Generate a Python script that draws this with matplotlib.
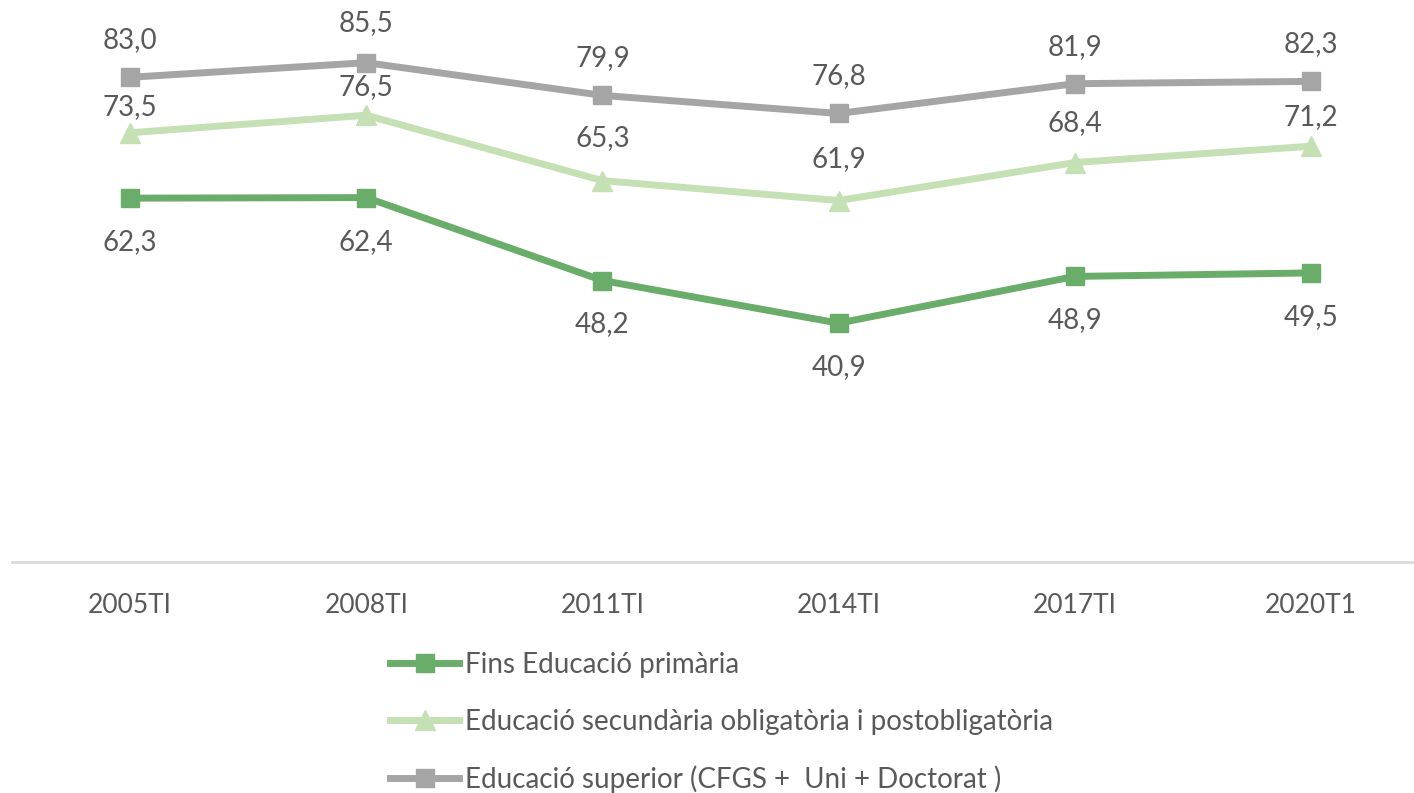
import numpy as np
import matplotlib
matplotlib.use('agg')
import matplotlib.pyplot as plt

periods = ['2005TI', '2008TI', '2011TI', '2014TI', '2017TI', '2020T1']
primaria = [62.3, 62.4, 48.2, 40.9, 48.9, 49.5]
secundaria = [73.5, 76.5, 65.3, 61.9, 68.4, 71.2]
superior = [83.0, 85.5, 79.9, 76.8, 81.9, 82.3]

labels = ['Fins Educació primària',
          'Educació secundària obligatòria i postobligatòria',
          'Educació superior (CFGS +  Uni + Doctorat )']

# label offsets in pixels (labels were nudged in the original)
off_prim = [-44] * 6
off_sec = [26, 28, 43, 41, 39, 29]
off_sup = [37, 40, 37, 37, 37, 37]

plt.rcParams['font.family'] = ['Lato', 'DejaVu Sans']
txt = '#595959'
fs = 19
fs_lab = 20

fig = plt.figure(figsize=(14.14, 7.93), dpi=100)
ax = fig.add_axes([12/1414, 1 - 562/793, 1 - 12/1414, 525.6/793])

x = np.arange(len(periods))
series = [
    (primaria, '#6aad6b', 's', off_prim),
    (secundaria, '#c5e0b4', '^', off_sec),
    (superior, '#a5a5a5', 's', off_sup),
]
for (vals, col, mk, offs), lab in zip(series, labels):
    ax.plot(x, vals, color=col, lw=5, marker=mk, ms=13 if mk == 's' else 14,
            label=lab, clip_on=False, zorder=3)
    for xi, v, off in zip(x, vals, offs):
        ax.annotate(f'{v:.1f}'.replace('.', ','), (xi, v), xytext=(0, off),
                    textcoords='offset pixels', ha='center', va='center',
                    fontsize=fs_lab, color=txt, annotation_clip=False)

ax.set_xlim(-0.5, 5.436)
ax.set_ylim(0, 90)
ax.set_yticks([])
for s in ['top', 'right', 'left']:
    ax.spines[s].set_visible(False)
ax.spines['bottom'].set_color('#d9d9d9')
ax.spines['bottom'].set_linewidth(2)
ax.set_xticks(x)
ax.set_xticklabels(periods, fontsize=fs, color=txt)
ax.tick_params(axis='x', length=0, pad=22)

handles, labs = ax.get_legend_handles_labels()
fig.legend(handles, labs, loc='upper left', bbox_to_anchor=(390/1414, 1 - 652/793),
           frameon=False, fontsize=fs_lab, labelcolor=txt, handlelength=2.5,
           handletextpad=0.2, labelspacing=1.1, numpoints=1, borderpad=0,
           borderaxespad=0)

fig.savefig('out.png', dpi=100)
